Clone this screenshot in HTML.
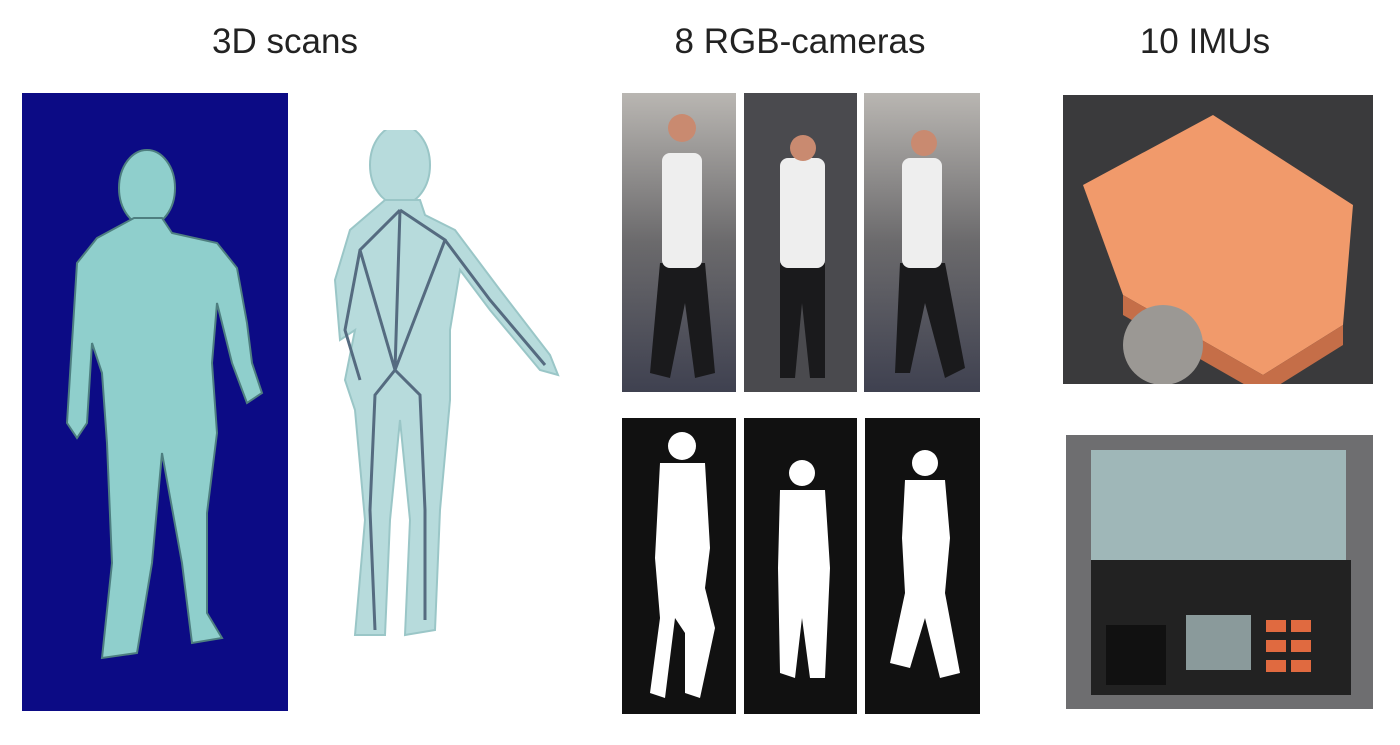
<!DOCTYPE html>
<html><head><meta charset="utf-8">
<style>
html,body{margin:0;padding:0;background:#fff;}
body{width:1400px;height:745px;position:relative;overflow:hidden;font-family:"Liberation Sans",sans-serif;}
.t{position:absolute;top:22px;font-size:35px;color:#222;text-align:center;}
.p{position:absolute;}
</style></head><body>
<div class="t" style="left:150px;width:270px;">3D scans</div>
<div class="t" style="left:640px;width:320px;">8 RGB-cameras</div>
<div class="t" style="left:1085px;width:240px;">10 IMUs</div>

<svg class="p" style="left:22px;top:93px" width="266" height="618">
<rect width="266" height="618" fill="#0c0b85"/>
<g fill="#8fcfcc" stroke="#4e7f80" stroke-width="2">
<ellipse cx="125" cy="95" rx="28" ry="38"/>
<path d="M112 125 L140 125 L150 140 L195 150 L215 175 L225 230 L230 270 L240 300 L225 310 L210 270 L195 210 L190 270 L195 340 L185 420 L185 520 L200 545 L170 550 L160 470 L140 360 L130 470 L115 560 L80 565 L90 470 L85 350 L80 280 L70 250 L65 330 L55 345 L45 330 L50 250 L55 170 L75 145 Z"/>
</g></svg>

<svg class="p" style="left:300px;top:130px" width="270" height="520">
<g fill="#b7dbdc" stroke="#9ac6c7" stroke-width="2">
<ellipse cx="100" cy="35" rx="30" ry="40"/>
<path d="M85 70 L120 70 L125 85 L155 100 L200 160 L250 225 L258 245 L240 240 L190 180 L160 140 L150 200 L150 270 L140 380 L135 500 L105 505 L110 390 L100 290 L90 390 L85 505 L55 505 L65 390 L55 280 L45 250 L55 200 L40 210 L35 150 L50 100 Z"/>
</g>
<g stroke="#556b80" stroke-width="3" fill="none">
<path d="M100 80 L95 240 L75 265 L70 380 L75 500 M95 240 L120 265 L125 380 L125 490 M100 80 L60 120 L45 200 L60 250 M100 80 L145 110 L95 240 M145 110 L190 170 L245 235 M60 120 L95 240"/>
</g></svg>

<svg class="p" style="left:620px;top:93px" width="362" height="300">
<defs><linearGradient id="g" x1="0" y1="0" x2="0" y2="1"><stop offset="0" stop-color="#b9b6b2"/><stop offset="0.5" stop-color="#6b6a6c"/><stop offset="1" stop-color="#3f4150"/></linearGradient></defs>
<rect x="2" y="0" width="114" height="299" fill="url(#g)"/>
<rect x="124" y="0" width="113" height="299" fill="#4a4a4e"/>
<rect x="244" y="0" width="116" height="299" fill="url(#g)"/>
<g fill="#1a1a1c"><path d="M40 170 L85 170 L95 280 L75 285 L65 210 L50 285 L30 280 Z"/><path d="M160 170 L205 170 L205 285 L190 285 L182 210 L175 285 L160 285 Z"/><path d="M280 170 L325 170 L345 275 L325 285 L305 210 L290 280 L275 280 Z"/></g>
<g fill="#eee"><rect x="42" y="60" width="40" height="115" rx="8"/><rect x="160" y="65" width="45" height="110" rx="8"/><rect x="282" y="65" width="40" height="110" rx="8"/></g>
<g fill="#c98a70"><circle cx="62" cy="35" r="14"/><circle cx="183" cy="55" r="13"/><circle cx="304" cy="50" r="13"/></g>
</svg>

<svg class="p" style="left:620px;top:418px" width="362" height="296">
<rect x="2" y="0" width="114" height="296" fill="#111"/>
<rect x="124" y="0" width="113" height="296" fill="#111"/>
<rect x="245" y="0" width="115" height="296" fill="#111"/>
<g fill="#fff">
<circle cx="62" cy="28" r="14"/><path d="M40 45 L85 45 L90 130 L85 170 L95 210 L80 280 L65 275 L65 215 L55 200 L45 280 L30 275 L40 200 L35 140 Z"/>
<circle cx="182" cy="55" r="13"/><path d="M160 72 L205 72 L210 150 L205 260 L190 260 L182 200 L175 260 L160 255 L158 150 Z"/>
<circle cx="305" cy="45" r="13"/><path d="M285 62 L325 62 L330 120 L325 175 L340 255 L320 260 L305 200 L290 250 L270 245 L285 175 L282 120 Z"/>
</g></svg>

<svg class="p" style="left:1063px;top:95px" width="310" height="289">
<rect width="310" height="289" fill="#3a3a3c"/>
<path d="M20 90 L150 20 L290 110 L280 230 L200 280 L60 200 Z" fill="#f19a6b"/>
<path d="M60 200 L200 280 L280 230 L280 250 L200 300 L60 220 Z" fill="#c56e48"/>
<circle cx="100" cy="250" r="40" fill="#9b9894"/>
</svg>

<svg class="p" style="left:1066px;top:435px" width="307" height="274">
<rect width="307" height="274" fill="#6e6e70"/>
<rect x="25" y="15" width="255" height="110" fill="#9fb7b8"/>
<rect x="25" y="125" width="260" height="135" fill="#222"/>
<rect x="40" y="190" width="60" height="60" fill="#111"/>
<rect x="120" y="180" width="65" height="55" fill="#8a9a9b"/>
<g fill="#e06a40"><rect x="200" y="185" width="20" height="12"/><rect x="225" y="185" width="20" height="12"/><rect x="200" y="205" width="20" height="12"/><rect x="225" y="205" width="20" height="12"/><rect x="200" y="225" width="20" height="12"/><rect x="225" y="225" width="20" height="12"/></g>
</svg>
</body></html>
